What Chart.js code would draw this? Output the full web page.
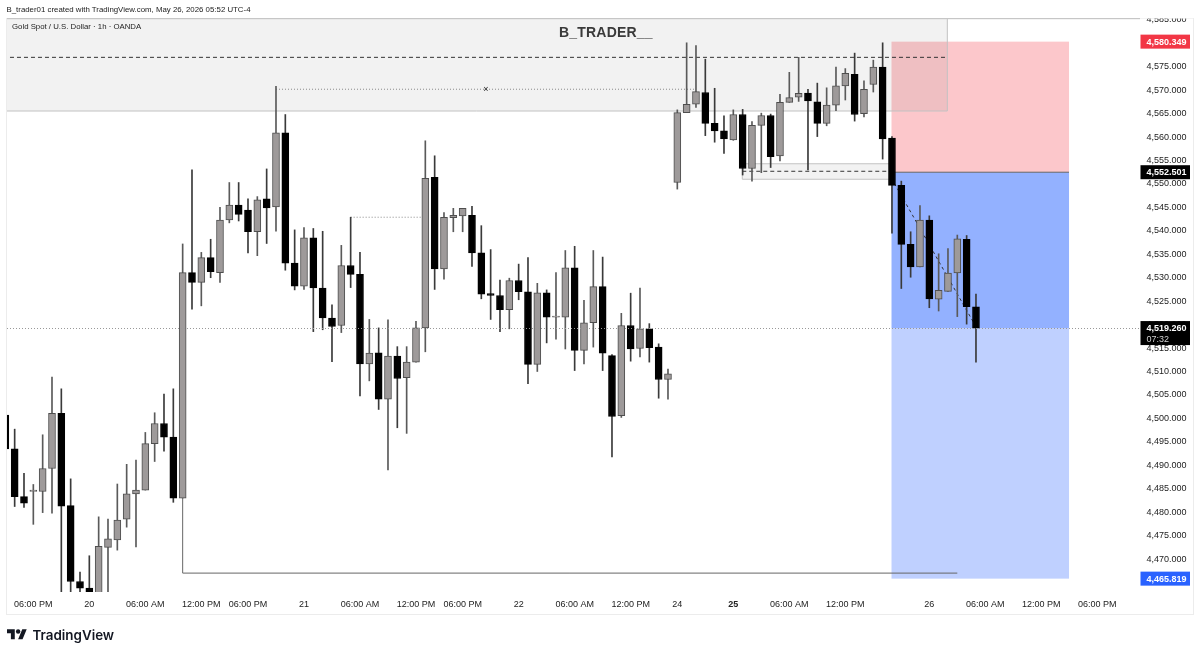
<!DOCTYPE html>
<html><head><meta charset="utf-8">
<script src="https://cdn.jsdelivr.net/npm/chart.js@4"></script>
<style>
html,body{margin:0;padding:0;background:#fff;width:1200px;height:654px;overflow:hidden}
#c{position:absolute;left:0;top:0}
.t{position:absolute;white-space:nowrap;font-family:"Liberation Sans",Arial,sans-serif;color:#222}
</style></head><body>
<canvas id="c" width="1200" height="654"></canvas>
<div class="t" style="left:6.5px;top:4px;font-size:7.85px;line-height:12px">B_trader01 created with TradingView.com, May 26, 2026 05:52 UTC-4</div>
<div class="t" style="left:12px;top:21px;font-size:7.8px;line-height:12px">Gold Spot / U.S. Dollar · 1h · OANDA</div>
<div class="t" style="left:559px;top:23px;font-size:14px;line-height:18px;letter-spacing:.2px;font-weight:bold;color:#3a3a3a">B_TRADER__</div>
<svg style="position:absolute;left:7.4px;top:627px" width="20" height="15.6" viewBox="0 0 36 28"><path d="M14 22H7V11H0V4h14v18zM28 22h-8l7.5-18h8L28 22z" fill="#131722"/><circle cx="20" cy="8" r="4" fill="#131722"/></svg>
<div class="t" style="left:32.5px;top:625px;font-family:Inter,'Noto Sans',sans-serif;font-size:13.4px;line-height:20px;font-weight:600;color:#131722">TradingView</div>
<script>
const opens=[4500.7,4493.5,4483.3,4484.4,4484.4,4489.3,4501.1,4481.4,4465.2,4463.8,4459.1,4472.5,4474.1,4478.5,4483.9,4484.7,4494.6,4498.9,4496.0,4483.0,
4531.1,4529.0,4534.3,4531.1,4542.3,4545.5,4544.4,4539.8,4546.8,4545.1,4560.9,4533.1,4528.2,4538.5,4527.8,4521.4,4519.8,4532.6,4530.7,4511.6,
4514.0,4504.1,4513.3,4508.7,4512.0,4519.3,4551.4,4531.9,4542.8,4543.2,4543.3,4535.3,4526.6,4526.2,4523.2,4529.4,4527.0,4511.5,4526.8,4521.6,
4521.6,4532.1,4514.5,4520.4,4528.1,4513.4,4500.6,4519.8,4514.9,4519.1,4515.2,4508.3,4550.3,4565.2,4567.0,4569.5,4562.9,4561.3,4559.4,4564.8,
4553.3,4562.5,4564.6,4556.0,4567.4,4568.5,4569.4,4567.5,4562.9,4566.8,4570.9,4573.4,4565.0,4571.2,4574.9,4559.8,4549.7,4537.1,4532.3,4542.3,
4525.4,4527.1,4531.0,4538.2,4523.8];
const highs=[4500.7,4497.7,4488.3,4485.9,4496.5,4508.8,4506.3,4487.1,4467.2,4470.7,4479.0,4478.5,4486.0,4490.2,4491.1,4497.0,4501.2,4505.2,4506.3,4537.2,
4553.0,4535.4,4538.2,4545.0,4550.3,4550.3,4546.8,4547.3,4553.2,4570.8,4564.8,4540.2,4540.7,4540.5,4539.9,4524.2,4536.9,4542.9,4535.4,4521.1,
4519.3,4521.0,4515.3,4515.3,4520.7,4559.2,4556.0,4543.9,4544.8,4544.8,4545.2,4541.1,4536.0,4529.5,4529.9,4532.9,4534.3,4528.8,4527.4,4531.1,
4535.8,4536.7,4525.2,4535.8,4534.4,4513.6,4522.4,4526.7,4527.8,4520.2,4515.9,4510.5,4565.8,4580.1,4579.5,4576.6,4570.4,4564.5,4565.8,4565.9,
4563.3,4565.1,4564.9,4569.1,4573.8,4577.0,4570.2,4571.5,4570.5,4574.9,4574.6,4577.9,4572.0,4576.4,4580.1,4560.1,4550.6,4539.8,4545.4,4543.2,
4535.1,4536.2,4539.1,4539.0,4526.5];
const lows=[4493.5,4481.2,4481.0,4477.4,4479.9,4479.8,4460.6,4459.1,4461.3,4458.4,4457.0,4461.3,4471.9,4476.8,4472.6,4484.7,4490.8,4493.0,4482.1,4483.0,
4523.3,4524.0,4530.0,4529.0,4541.7,4542.1,4535.3,4534.7,4537.3,4539.9,4531.6,4527.4,4527.5,4518.5,4518.9,4512.1,4518.3,4527.9,4504.8,4508.0,
4501.9,4489.0,4498.0,4496.8,4512.0,4514.2,4527.5,4529.7,4539.8,4539.8,4532.4,4525.5,4521.1,4518.5,4519.1,4525.3,4507.4,4510.0,4516.1,4516.9,
4514.8,4510.2,4511.6,4515.2,4510.2,4491.8,4500.2,4512.2,4513.1,4512.0,4504.3,4504.1,4548.9,4565.2,4566.3,4560.3,4558.9,4556.5,4559.3,4551.9,
4550.6,4552.4,4553.5,4554.9,4567.4,4567.6,4553.0,4560.1,4562.4,4565.6,4567.9,4563.4,4564.3,4569.6,4555.3,4539.5,4527.7,4530.1,4532.3,4523.6,
4522.9,4527.1,4521.7,4520.1,4512.0];
const closes=[4493.5,4483.3,4481.9,4484.7,4489.3,4501.1,4481.3,4465.2,4463.8,4460.6,4472.7,4474.3,4478.3,4483.9,4484.7,4494.6,4498.9,4496.0,4483.0,4531.1,
4529.0,4534.3,4531.3,4542.3,4545.5,4543.5,4539.8,4546.6,4544.9,4560.9,4533.1,4528.2,4538.5,4527.8,4521.4,4519.6,4532.6,4530.7,4511.6,4513.9,
4504.1,4513.3,4508.5,4512.0,4519.3,4551.2,4531.9,4542.9,4543.3,4544.8,4535.3,4526.5,4526.2,4523.2,4529.4,4527.0,4511.5,4526.8,4521.6,4521.8,
4532.1,4514.5,4520.4,4528.1,4513.9,4500.4,4519.8,4514.8,4519.1,4515.1,4508.3,4509.5,4565.2,4567.0,4569.7,4562.9,4561.3,4559.6,4564.8,4553.3,
4562.5,4564.6,4555.8,4567.4,4568.4,4569.3,4567.7,4562.9,4566.8,4570.9,4573.6,4564.8,4570.2,4574.9,4559.6,4549.7,4537.1,4532.3,4542.3,4525.5,
4527.3,4531.0,4538.3,4523.8,4519.26];
const barIndex=opens.map((_,i)=>i);
const tickIndex=[3,9,15,21,26,32,38,44,49,55,61,67,72,78,84,90,99,105,111,117];
const tickLabels=["06:00 PM","20","06:00 AM","12:00 PM","06:00 PM","21","06:00 AM","12:00 PM","06:00 PM","22","06:00 AM","12:00 PM","24","25","06:00 AM","12:00 PM","26","06:00 AM","12:00 PM","06:00 PM"];
const priceTicks=[4470,4475,4480,4485,4490,4495,4500,4505,4510,4515,4520,4525,4530,4535,4540,4545,4550,4555,4560,4565,4570,4575,4580,4585];
const priceRange=[4462.97,4585.39];
const indexRange=[0.179,121.36];
const stopPrice=4580.349,entryPrice=4552.501,targetPrice=4465.819,lastPrice=4519.26,countdown="07:32";
const positionSpan=[94.95,113.97];
const zone=[-1,100.93,4565.55,4590];
const innerZone=[78.96,94.8,4551.0,4554.3];
const dashedHigh=[-1,100.93,4577.0];
const dashedInner=[78.96,94.8,4552.7];
const dottedA=[29,74,4570.2];
const dottedB=[37,45,4542.9];
const crossMark=[51.5,4570.2];
const elbow=[19,102,4483.0,4467.0];
const trend=[94.95,4551.2,103.7,4520.6];

const FONT='"Liberation Sans",Arial,sans-serif';
const fmt=v=>v.toLocaleString('en-US',{minimumFractionDigits:3,maximumFractionDigits:3});

const overlay={id:'overlay',
 beforeDatasetsDraw(ch){
  const c=ch.ctx,X=ch.scales.x,Y=ch.scales.y,A=ch.chartArea;
  const px=v=>X.getPixelForValue(v),py=v=>Y.getPixelForValue(v);
  c.save();c.beginPath();c.rect(A.left,A.top,A.right-A.left,A.bottom-A.top);c.clip();
  const box=(x0,x1,p0,p1,col)=>{c.fillStyle=col;c.fillRect(px(x0),py(p1),px(x1)-px(x0),py(p0)-py(p1));};
  const line=(pts,col,w,dash)=>{c.strokeStyle=col;c.lineWidth=w;c.setLineDash(dash||[]);c.beginPath();pts.forEach((p,i)=>i?c.lineTo(px(p[0]),py(p[1])):c.moveTo(px(p[0]),py(p[1])));c.stroke();c.setLineDash([]);};
  box(positionSpan[0],positionSpan[1],entryPrice,stopPrice,'#fcc7cb');
  box(positionSpan[0],positionSpan[1],lastPrice,entryPrice,'#93b1ff');
  box(positionSpan[0],positionSpan[1],targetPrice,lastPrice,'#bfd0ff');
  line([[positionSpan[0],entryPrice],[positionSpan[1],entryPrice]],'#666',1);
  box(zone[0],zone[1],zone[2],zone[3],'rgba(120,120,120,0.095)');
  line([[zone[0],zone[2]],[zone[1],zone[2]],[zone[1],zone[3]]],'#c2c2c2',1);
  box(innerZone[0],innerZone[1],innerZone[2],innerZone[3],'rgba(120,120,120,0.095)');
  line([[innerZone[1],innerZone[3]],[innerZone[0],innerZone[3]],[innerZone[0],innerZone[2]],[innerZone[1],innerZone[2]]],'#c2c2c2',1);
  line([[dashedHigh[0],dashedHigh[2]],[dashedHigh[1],dashedHigh[2]]],'#333',1,[4,3]);
  line([[dashedInner[0],dashedInner[2]],[dashedInner[1],dashedInner[2]]],'#333',1,[4,3]);
  line([[dottedA[0],dottedA[2]],[dottedA[1],dottedA[2]]],'#888',1,[1,2]);
  line([[dottedB[0],dottedB[2]],[dottedB[1],dottedB[2]]],'#888',1,[1,2]);
  line([[elbow[0],elbow[2]],[elbow[0],elbow[3]],[elbow[1],elbow[3]]],'#666',1);
  line([[trend[0],trend[1]],[trend[2],trend[3]]],'#333',1,[3,3]);
  c.fillStyle='#222';c.font='9px '+FONT;c.textAlign='center';c.textBaseline='middle';
  c.fillText('×',px(crossMark[0]),py(crossMark[1]));
  c.restore();
 },
 afterDraw(ch){
  const c=ch.ctx,Y=ch.scales.y,A=ch.chartArea,py=v=>Y.getPixelForValue(v);
  c.save();
  c.strokeStyle='#999';c.lineWidth=1;c.setLineDash([1,2]);
  c.beginPath();c.moveTo(A.left,Math.round(py(lastPrice))+.5);c.lineTo(A.right+2,Math.round(py(lastPrice))+.5);c.stroke();c.setLineDash([]);
  const badge=(p,bg,txt)=>{const y=py(p);c.fillStyle=bg;c.fillRect(1140.5,y-7,49.5,14);
    c.fillStyle=txt;c.font='bold 9px '+FONT;c.textAlign='left';c.textBaseline='middle';c.fillText(fmt(p),1146.5,y+.5);};
  badge(stopPrice,'#f23645','#fff');
  badge(entryPrice,'#000','#fff');
  badge(targetPrice,'#2962ff','#fff');
  const ly=py(lastPrice);
  c.fillStyle='#000';c.fillRect(1140.5,ly-7,49.5,24);
  c.fillStyle='#fff';c.font='bold 9px '+FONT;c.textAlign='left';c.textBaseline='middle';c.fillText(fmt(lastPrice),1146.5,ly+.5);
  c.fillStyle='#d0d0d0';c.font='9px '+FONT;c.fillText(countdown,1146.5,ly+11);
  c.clearRect(0,0,1200,18);c.fillStyle='#fff';c.fillRect(0,0,1200,18);
  c.fillStyle='#c6c6c6';c.fillRect(6,18,1134,1.2);
  c.fillStyle='#ececec';c.fillRect(6,18,1,596);c.fillRect(1193,18,1,596);c.fillRect(6,614,1188,1);c.fillRect(1140,18,53,.6);
  c.restore();
 }};

const isUp=i=>closes[i]>=opens[i];
new Chart(document.getElementById('c'),{
 type:'bar',
 data:{datasets:[
  {label:'Body',grouped:false,barThickness:7,borderWidth:1,borderSkipped:false,
   data:barIndex.map(i=>({x:i,y:[opens[i],closes[i]]})),
   backgroundColor:barIndex.map(i=>isUp(i)?'#9e9a9a':'#000'),
   borderColor:barIndex.map(i=>isUp(i)?'#4e4e4e':'#000')},
  {label:'Wick',grouped:false,barThickness:1,borderWidth:0,
   data:barIndex.map(i=>({x:i,y:[lows[i],highs[i]]})),
   backgroundColor:barIndex.map(i=>isUp(i)?'#5a5a5a':'#3a3a3a')}
 ]},
 options:{responsive:false,animation:false,devicePixelRatio:1,
  layout:{padding:{left:7,top:18,right:0,bottom:0}},
  plugins:{legend:{display:false},tooltip:{enabled:false},title:{display:false}},
  scales:{
   x:{type:'linear',min:indexRange[0],max:indexRange[1],offset:false,
    grid:{display:false,drawTicks:false},border:{display:false},
    afterBuildTicks:s=>{s.ticks=tickIndex.map(v=>({value:v}));},
    afterFit:s=>{s.height=62;},
    ticks:{autoSkip:false,maxRotation:0,padding:7,color:'#222',
     font:ctx=>({family:FONT,size:9,weight:tickLabels[tickIndex.indexOf(ctx.tick&&ctx.tick.value)]==='25'?'bold':'normal'}),
     callback:v=>tickLabels[tickIndex.indexOf(v)]}},
   y:{type:'linear',position:'right',min:priceRange[0],max:priceRange[1],
    grid:{display:false,drawTicks:false},border:{display:false},
    afterBuildTicks:s=>{s.ticks=priceTicks.map(v=>({value:v}));},
    afterFit:s=>{s.width=62;},
    ticks:{autoSkip:false,padding:8.5,color:'#222',font:{family:FONT,size:9},callback:v=>fmt(v)}}
  }
 },
 plugins:[overlay]
});
</script>
</body></html>
